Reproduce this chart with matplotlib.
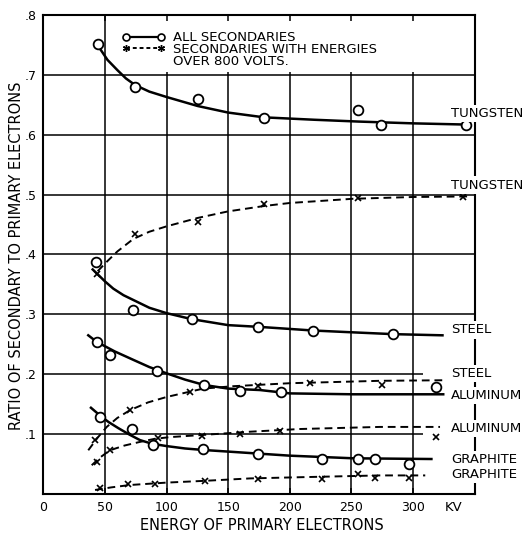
import matplotlib
matplotlib.use('Agg')
import matplotlib.pyplot as plt
from matplotlib.lines import Line2D
from matplotlib.patches import Rectangle

plt.rcParams['font.family'] = ['DejaVu Sans']
plt.rcParams['font.size'] = 9

## measured points (kv, ratio)
tungsten_kv = [44.1, 74.4, 125.2, 179.3, 255.6, 274.0, 343.0]
tungsten_all = [0.751, 0.679, 0.660, 0.628, 0.641, 0.617, 0.617]
tungsten_800_kv = [43.2, 74.4, 125.2, 179.3, 255.6, 340.3]
tungsten_800 = [0.368, 0.435, 0.455, 0.485, 0.494, 0.496]

steel_kv = [42.7, 72.5, 120.4, 174.4, 219.0, 283.5]
steel_all = [0.387, 0.308, 0.292, 0.279, 0.273, 0.267]
steel_800_kv = [41.9, 70.3, 119.0, 174.4, 216.4, 274.6]
steel_800 = [0.090, 0.140, 0.171, 0.180, 0.185, 0.182]

aluminum_kv = [43.3, 54.0, 92.0, 130.6, 159.6, 192.9, 319.0]
aluminum_all = [0.254, 0.232, 0.206, 0.182, 0.172, 0.171, 0.179]
aluminum_800_kv = [43.3, 54.0, 93.3, 128.5, 159.6, 192.0, 319.0]
aluminum_800 = [0.054, 0.073, 0.093, 0.097, 0.100, 0.106, 0.095]

graphite_kv = [46.0, 71.7, 89.2, 129.8, 174.4, 225.9, 255.6, 269.0, 297.0]
graphite_all = [0.129, 0.1085, 0.082, 0.0746, 0.0668, 0.0584, 0.0584, 0.0584, 0.050]
graphite_800_kv = [46.0, 68.9, 90.6, 131.2, 174.4, 225.9, 255.6, 269.0, 297.0]
graphite_800 = [0.0095, 0.0167, 0.0167, 0.022, 0.0245, 0.0245, 0.0334, 0.026, 0.026]

## hand drawn smooth curves
tungsten_fit_kv = [44.5, 52, 60, 67, 74.4, 86, 100, 125.2, 150, 179.3, 220, 255.6, 300, 343]
tungsten_fit = [0.748, 0.725, 0.708, 0.694, 0.683, 0.672, 0.663, 0.648, 0.637, 0.629, 0.625, 0.622, 0.619, 0.617]
tungsten_800_fit_kv = [44, 52, 60, 73, 86, 100, 125.2, 150, 179.3, 200, 251, 300, 347]
tungsten_800_fit = [0.372, 0.389, 0.405, 0.426, 0.438, 0.447, 0.461, 0.472, 0.481, 0.486, 0.493, 0.496, 0.497]

steel_fit_kv = [40, 50, 56.7, 65, 73, 86, 100, 120.4, 150, 176, 219, 250.7, 283.5, 324]
steel_fit = [0.375, 0.355, 0.343, 0.332, 0.324, 0.311, 0.302, 0.292, 0.282, 0.279, 0.273, 0.270, 0.267, 0.265]
steel_800_fit_kv = [36.4, 44, 51.4, 60, 70.3, 85, 100, 129.8, 154, 200, 273, 327]
steel_800_fit = [0.073, 0.094, 0.112, 0.127, 0.140, 0.153, 0.162, 0.176, 0.180, 0.185, 0.189, 0.190]

aluminum_fit_kv = [36.4, 43.3, 58, 73, 86, 100, 115, 130.6, 150, 175.8, 200, 251.5, 324.6]
aluminum_fit = [0.265, 0.254, 0.238, 0.224, 0.212, 0.2015, 0.191, 0.182, 0.176, 0.1736, 0.168, 0.1665, 0.1665]
aluminum_800_fit_kv = [39.2, 46, 54, 66, 78.4, 90, 102.8, 128.5, 167.7, 208, 273, 322]
aluminum_800_fit = [0.048, 0.061, 0.073, 0.081, 0.087, 0.092, 0.095, 0.0985, 0.104, 0.1085, 0.112, 0.112]

graphite_fit_kv = [38.6, 46, 53, 60.8, 70, 78.4, 88, 100, 115, 129.8, 151.5, 200, 251.5, 315]
graphite_fit = [0.144, 0.131, 0.120, 0.110, 0.099, 0.090, 0.084, 0.080, 0.076, 0.0735, 0.0706, 0.064, 0.0596, 0.0584]
graphite_800_fit_kv = [41.9, 55, 70.3, 85, 100, 131.2, 167.7, 208.3, 273, 310]
graphite_800_fit = [0.0067, 0.011, 0.015, 0.017, 0.019, 0.022, 0.026, 0.028, 0.031, 0.031]

curve_labels = ['TUNGSTEN', 'TUNGSTEN', 'STEEL', 'STEEL',
                'ALUMINUM', 'ALUMINUM', 'GRAPHITE', 'GRAPHITE']
curve_label_y = [0.635, 0.516, 0.274, 0.2015, 0.165, 0.110, 0.058, 0.032]

legend_labels = ['ALL SECONDARIES', 'SECONDARIES WITH ENERGIES', 'OVER 800 VOLTS.']

x_ticks = [0, 50, 100, 150, 200, 250, 300]
y_ticks = [0.1, 0.2, 0.3, 0.4, 0.5, 0.6, 0.7, 0.8]
y_ticklabels = ['.1', '.2', '.3', '.4', '.5', '.6', '.7', '.8']

fig = plt.figure(figsize=(5.27, 5.33), dpi=100)
ax = fig.add_axes([0.0824, 0.0732, 0.818, 0.8987])
ax.set_xlim(0, 350)
ax.set_ylim(0, 0.8)

## grid drawn by hand, lower two rows stop short of the labels
for xv in x_ticks[1:]:
    ax.axvline(xv, color='black', lw=1.1, zorder=1)
for yv in y_ticks[:-1]:
    xend = 308 if yv < 0.25 else 350
    ax.hlines(yv, 0, xend, color='black', lw=1.1, zorder=1)

# blank patch behind the key
ax.add_patch(Rectangle((0.166, 0.882), 0.834, 0.118, transform=ax.transAxes,
                       facecolor='white', edgecolor='none', zorder=1.5))

solid = dict(color='black', lw=1.8, zorder=3)
dashed = dict(color='black', lw=1.4, ls=(0, (4, 2.5)), zorder=3)
circ = dict(ls='none', marker='o', ms=7, mfc='white', mec='black', mew=1.3, zorder=4)
cross = dict(ls='none', marker='x', ms=4.5, mec='black', mew=1.2, zorder=4)

fits = [(tungsten_fit_kv, tungsten_fit), (steel_fit_kv, steel_fit),
        (aluminum_fit_kv, aluminum_fit), (graphite_fit_kv, graphite_fit)]
fits_800 = [(tungsten_800_fit_kv, tungsten_800_fit), (steel_800_fit_kv, steel_800_fit),
            (aluminum_800_fit_kv, aluminum_800_fit), (graphite_800_fit_kv, graphite_800_fit)]
for xs, ys in fits:
    ax.plot(xs, ys, **solid)
for xs, ys in fits_800:
    ax.plot(xs, ys, **dashed)

for xs, ys in [(tungsten_kv, tungsten_all), (steel_kv, steel_all),
               (aluminum_kv, aluminum_all), (graphite_kv, graphite_all)]:
    ax.plot(xs, ys, **circ)
for xs, ys in [(tungsten_800_kv, tungsten_800), (steel_800_kv, steel_800),
               (aluminum_800_kv, aluminum_800), (graphite_800_kv, graphite_800)]:
    ax.plot(xs, ys, **cross)

for lab, yv in zip(curve_labels, curve_label_y):
    ax.text(331, yv, lab, ha='left', va='center', fontsize=9.5, clip_on=False, zorder=5,
            bbox=dict(facecolor='white', edgecolor='none', pad=1.5))

h1 = Line2D([], [], color='black', lw=1.6, marker='o', ms=5, mfc='white', mec='black', mew=1.2)
h2 = Line2D([], [], color='black', lw=1.4, ls=(0, (2, 1.5)), marker=(6, 2, 0), ms=5, mec='black', mew=1.0)
h3 = Line2D([], [], ls='none', marker='none')
leg = ax.legend([h1, h2, h3], legend_labels,
                loc='upper left', bbox_to_anchor=(0.1816, 0.966), frameon=False, numpoints=2,
                handlelength=3.3, handletextpad=0.6, labelspacing=-0.1, borderpad=0,
                borderaxespad=0, fontsize=9.5)

ax.set_xticks(x_ticks)
ax.set_xticklabels([str(v) for v in x_ticks])
ax.set_yticks(y_ticks)
ax.set_yticklabels(y_ticklabels)
ax.tick_params(axis='both', length=0, pad=5, labelsize=9)
ax.tick_params(axis='x', top=True, direction='in', length=4, width=1.1)
ax.text(333, -0.012, 'KV', ha='center', va='top', fontsize=9.5)

for sp in ax.spines.values():
    sp.set_linewidth(1.5)

ax.set_xlabel('ENERGY OF PRIMARY ELECTRONS', fontsize=10.5)
ax.xaxis.set_label_coords(0.507, -0.05)
ax.set_ylabel('RATIO OF SECONDARY TO PRIMARY ELECTRONS', fontsize=10.5)
ax.yaxis.set_label_coords(-0.045, 0.497)

fig.savefig('out.png', dpi=100)
